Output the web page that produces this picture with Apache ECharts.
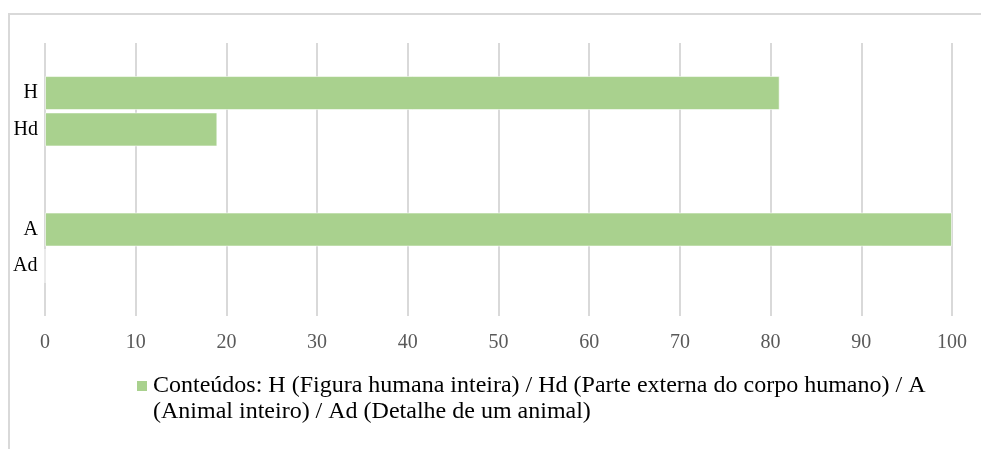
<!DOCTYPE html>
<html>
<head>
<meta charset="utf-8">
<script src="https://cdn.jsdelivr.net/npm/echarts@6/dist/echarts.min.js"></script>
<style>
  html, body { margin: 0; padding: 0; background: #fff; }
  #chart { width: 981px; height: 449px; }
</style>
</head>
<body>
<div id="chart"></div>
<script>
// Two groups of content codes, each drawn as a pair of bars
const groups = ['Humano', 'Animal'];
const firstCodes = ['H', 'A'];       // whole figure
const secondCodes = ['Hd', 'Ad'];    // detail / part
const firstValues = [81, 100];
const secondValues = [19, 0];
const xTicks = { min: 0, max: 100, step: 10 };
const legendLine1 = 'Conteúdos: H (Figura humana inteira) / Hd (Parte externa do corpo humano) / A';
const legendLine2 = '(Animal inteiro) / Ad (Detalhe de um animal)';

const SERIF = "'Liberation Serif', 'Times New Roman', serif";
const GREEN = '#a9d18e';
const seriesName = legendLine1 + ' ' + legendLine2;

const chart = echarts.init(document.getElementById('chart'));

function barSeries(values, codes) {
  return {
    name: seriesName,
    type: 'bar',
    data: values,
    barWidth: 34,
    barGap: '7%',
    itemStyle: { color: GREEN, borderColor: 'rgba(255,255,255,0.55)', borderWidth: 1 },
    label: {
      show: true,
      position: 'left',
      distance: 7,
      color: '#000',
      fontFamily: SERIF,
      fontSize: 20,
      formatter: p => codes[p.dataIndex]
    },
    emphasis: { disabled: true },
    animation: false
  };
}

chart.setOption({
  animation: false,
  grid: { left: 45, right: 29, top: 43, bottom: 133, containLabel: false },
  xAxis: {
    type: 'value',
    min: xTicks.min,
    max: xTicks.max,
    interval: xTicks.step,
    axisLine: { show: false },
    axisTick: { show: false },
    splitLine: { show: true, lineStyle: { color: '#d9d9d9', width: 2 } },
    axisLabel: { color: '#595959', fontFamily: SERIF, fontSize: 20, margin: 17 }
  },
  yAxis: {
    type: 'category',
    data: groups,
    inverse: true,
    axisLine: { show: false },
    axisTick: { show: false },
    axisLabel: { show: false },
    splitLine: { show: false }
  },
  legend: {
    show: true,
    left: 132,
    top: 374,
    padding: 0,
    icon: 'none',
    itemWidth: 0,
    itemHeight: 10,
    selectedMode: false,
    data: [seriesName],
    formatter: () => '{m|}{g|}{t|' + legendLine1 + '}\n{s|}{t|' + legendLine2 + '}',
    textStyle: {
      rich: {
        m: { width: 10, height: 10, backgroundColor: GREEN },
        g: { width: 6 },
        s: { width: 16 },
        t: { fontFamily: SERIF, fontSize: 24, color: '#000', lineHeight: 26 }
      }
    }
  },
  graphic: [{
    type: 'rect',
    shape: { x: 9, y: 14, width: 985, height: 450 },
    style: { fill: 'none', stroke: '#d9d9d9', lineWidth: 2 },
    silent: true
  }],
  series: [barSeries(firstValues, firstCodes), barSeries(secondValues, secondCodes)]
});
</script>
</body>
</html>
